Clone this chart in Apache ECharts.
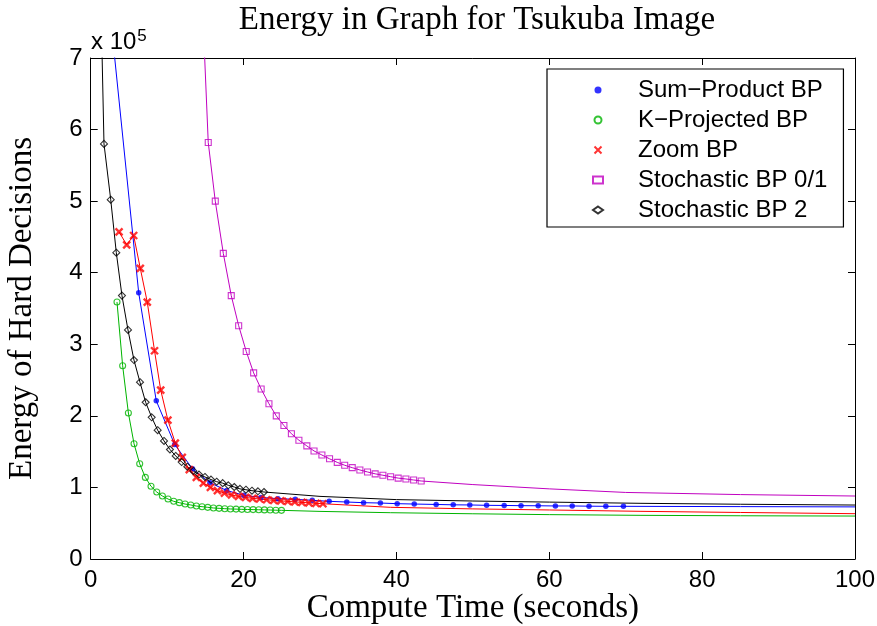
<!DOCTYPE html>
<html>
<head>
<meta charset="utf-8">
<script src="https://cdn.jsdelivr.net/npm/echarts@6/dist/echarts.min.js"></script>
<style>html,body{margin:0;padding:0;background:#fff;}#c{width:877px;height:626px;}</style>
</head>
<body>
<div id="c"></div>
<script>
// values in units of 10^5
// Sum-Product BP (marked points)
const sumProductX = [6.28, 8.58, 10.99, 13.32, 15.6, 17.79, 20.05, 22.28, 24.5, 26.76, 28.99, 31.2, 33.5, 35.7, 37.9, 40.1, 42.33, 45.2, 47.43, 49.6, 51.8, 54.1, 56.3, 58.55, 60.8, 63.0, 65.2, 67.4, 69.7];
const sumProductY = [3.72, 2.21, 1.60, 1.26, 1.066, 0.957, 0.89, 0.86, 0.843, 0.834, 0.82, 0.806, 0.796, 0.787, 0.782, 0.773, 0.768, 0.762, 0.757, 0.755, 0.75, 0.748, 0.745, 0.744, 0.741, 0.741, 0.738, 0.736, 0.736];
const sumProductLineX = [2.5, 85, 100];
const sumProductLineY = [7.67, 0.732, 0.728];

// K-Projected BP
const kProjX = [3.44, 4.18, 4.93, 5.67, 6.41, 7.15, 7.89, 8.64, 9.38, 10.12, 10.86, 11.6, 12.35, 13.09, 13.83, 14.57, 15.31, 16.06, 16.8, 17.54, 18.28, 19.02, 19.77, 20.51, 21.25, 21.99, 22.73, 23.48, 24.22, 24.96];
const kProjY = [3.59, 2.70, 2.04, 1.61, 1.33, 1.14, 1.016, 0.936, 0.88, 0.838, 0.806, 0.787, 0.768, 0.755, 0.74, 0.731, 0.722, 0.713, 0.708, 0.703, 0.699, 0.697, 0.694, 0.692, 0.69, 0.688, 0.686, 0.684, 0.682, 0.68];
const kProjLineX = [30, 39.2, 50, 60, 72, 85, 100];
const kProjLineY = [0.665, 0.647, 0.632, 0.62, 0.61, 0.604, 0.60];

// Zoom BP
const zoomX = [3.71, 4.71, 5.62, 6.49, 7.4, 8.35, 9.16, 10.1, 11.07, 11.98, 12.9, 13.82, 14.74, 15.66, 16.58, 17.5, 18.42, 19.34, 20.26, 21.18, 22.1, 23.02, 23.94, 24.86, 25.78, 26.7, 27.62, 28.54, 29.46, 30.38];
const zoomY = [4.57, 4.39, 4.52, 4.06, 3.59, 2.91, 2.36, 1.94, 1.62, 1.42, 1.25, 1.14, 1.06, 1.0, 0.955, 0.92, 0.895, 0.875, 0.86, 0.848, 0.838, 0.828, 0.82, 0.812, 0.805, 0.798, 0.791, 0.785, 0.778, 0.772];
const zoomLineX = [39.2, 50, 60, 72, 85, 100];
const zoomLineY = [0.722, 0.70, 0.685, 0.666, 0.65, 0.633];

// Stochastic BP 0/1
const stoch01X = [15.38, 16.3, 17.35, 18.39, 19.36, 20.35, 21.32, 22.3, 23.32, 24.28, 25.28, 26.26, 27.24, 28.28, 29.22, 30.25, 31.25, 32.26, 33.23, 34.22, 35.22, 36.22, 37.22, 38.23, 39.24, 40.23, 41.24, 42.25, 43.24];
const stoch01Y = [5.82, 5.00, 4.27, 3.68, 3.26, 2.90, 2.60, 2.375, 2.17, 2.00, 1.865, 1.75, 1.66, 1.58, 1.51, 1.453, 1.40, 1.35, 1.31, 1.276, 1.244, 1.216, 1.19, 1.17, 1.15, 1.13, 1.118, 1.104, 1.09];
const stoch01LineX = [14.4, 50, 60, 70, 85, 100];
const stoch01LineY = [8.3, 1.04, 0.98, 0.93, 0.90, 0.88];

// Stochastic BP 2
const stoch2X = [1.74, 2.62, 3.35, 4.09, 4.88, 5.66, 6.45, 7.19, 7.98, 8.76, 9.59, 10.37, 11.12, 11.9, 12.64, 13.42, 14.17, 14.95, 15.74, 16.48, 17.27, 18.0, 18.78, 19.53, 20.31, 21.1, 21.88, 22.67];
const stoch2Y = [5.80, 5.02, 4.28, 3.68, 3.20, 2.78, 2.47, 2.19, 1.98, 1.80, 1.65, 1.53, 1.44, 1.355, 1.29, 1.23, 1.18, 1.146, 1.11, 1.08, 1.06, 1.03, 1.006, 0.98, 0.968, 0.954, 0.946, 0.936];
const stoch2LineX = [0.97, 30, 40, 50, 60, 72, 85, 100];
const stoch2LineY = [9.6, 0.875, 0.83, 0.81, 0.795, 0.778, 0.765, 0.754];

const seriesNames = ['Sum\u2212Product BP', 'K\u2212Projected BP', 'Zoom BP', 'Stochastic BP 0/1', 'Stochastic BP 2'];
const xTicks = [0, 20, 40, 60, 80, 100];
const yTicks = [0, 1, 2, 3, 4, 5, 6, 7];

function pts(xs, ys) { return xs.map((x, i) => [x, ys[i]]); }
function linePts(xs, ys, lx, ly) {
  return pts(xs, ys).concat(pts(lx, ly)).sort((a, b) => a[0] - b[0]);
}

const defs = [
  { name: seriesNames[0], xs: sumProductX, ys: sumProductY, lx: sumProductLineX, ly: sumProductLineY, color: '#0000ff',
    symbol: 'circle', size: 5.5, item: { color: '#0000ff' } },
  { name: seriesNames[1], xs: kProjX, ys: kProjY, lx: kProjLineX, ly: kProjLineY, color: '#00b400',
    symbol: 'circle', size: 6, item: { color: 'rgba(0,0,0,0)', borderColor: '#00b400', borderWidth: 1.1 } },
  { name: seriesNames[2], xs: zoomX, ys: zoomY, lx: zoomLineX, ly: zoomLineY, color: '#ff0000',
    symbol: 'path://M0,0L10,10M10,0L0,10', size: 7, item: { color: 'rgba(0,0,0,0)', borderColor: '#ff0000', borderWidth: 2.4 } },
  { name: seriesNames[3], xs: stoch01X, ys: stoch01Y, lx: stoch01LineX, ly: stoch01LineY, color: '#c000c0',
    symbol: 'rect', size: 6, item: { color: 'rgba(0,0,0,0)', borderColor: '#c000c0', borderWidth: 1.1 } },
  { name: seriesNames[4], xs: stoch2X, ys: stoch2Y, lx: stoch2LineX, ly: stoch2LineY, color: '#000000',
    symbol: 'diamond', size: 7, item: { color: 'rgba(0,0,0,0)', borderColor: '#000000', borderWidth: 1.1 } }
];

const series = [];
defs.forEach((d, k) => {
  series.push({
    name: '_line' + k, type: 'line', data: linePts(d.xs, d.ys, d.lx, d.ly),
    showSymbol: false, symbol: 'none', smooth: false, clip: true,
    lineStyle: { color: d.color, width: 1 }, itemStyle: { color: d.color }, z: 2, silent: true
  });
});
defs.forEach((d) => {
  series.push({
    name: d.name, type: 'scatter', data: pts(d.xs, d.ys), symbol: d.symbol, symbolSize: d.size,
    itemStyle: d.item, z: 3, clip: true
  });
});

const chart = echarts.init(document.getElementById('c'), null, { renderer: 'canvas' });
const sans = 'Liberation Sans';
const serif = 'Liberation Serif';
const axisCommon = {
  type: 'value', splitLine: { show: false },
  axisLine: { show: true, onZero: false, lineStyle: { color: '#000', width: 1 } },
  axisTick: { show: true, inside: true, length: 7, lineStyle: { color: '#000', width: 1 } }
};
chart.setOption({
  animation: false,
  backgroundColor: '#fff',
  title: {
    text: 'Energy in Graph for Tsukuba Image', left: 472, textAlign: 'center', top: -1,
    textStyle: { fontFamily: serif, fontWeight: 'normal', fontSize: 33, color: '#000' }
  },
  grid: { left: 90.7, right: 22, top: 58, bottom: 67, containLabel: false, outerBoundsMode: 'none' },
  legend: {
    data: seriesNames, orient: 'vertical', left: 547, top: 69,
    itemWidth: 10, itemHeight: 7, itemGap: 6, padding: [9, 16, 5, 45],
    backgroundColor: '#fff', borderColor: '#000', borderWidth: 1.2,
    textStyle: { fontFamily: sans, fontSize: 24, color: '#000', padding: [0, 0, 0, 30] }
  },
  xAxis: [
    Object.assign({}, axisCommon, {
      min: 0, max: 100, interval: 20, position: 'bottom',
      name: 'Compute Time (seconds)', nameLocation: 'middle', nameGap: 33, nameMoveOverlap: false,
      nameTextStyle: { fontFamily: serif, fontSize: 33, color: '#000' },
      axisLabel: { show: true, margin: 9, fontFamily: sans, fontSize: 24, color: '#000',
        formatter: v => xTicks.includes(v) ? String(v) : '' }
    }),
    Object.assign({}, axisCommon, {
      min: 0, max: 100, interval: 20, position: 'top', axisLabel: { show: false }
    })
  ],
  yAxis: [
    Object.assign({}, axisCommon, {
      min: 0, max: 7, interval: 1, position: 'left',
      name: 'Energy of Hard Decisions', nameLocation: 'middle', nameGap: 52, nameRotate: 90,
      nameTextStyle: { fontFamily: serif, fontSize: 33, color: '#000' },
      axisLabel: { show: true, margin: 8, fontFamily: sans, fontSize: 24, color: '#000',
        formatter: v => yTicks.includes(v) ? String(v) : '' }
    }),
    Object.assign({}, axisCommon, {
      min: 0, max: 7, interval: 1, position: 'right', axisLabel: { show: false }
    })
  ],
  graphic: [{
    type: 'text', left: 91, top: 28,
    style: {
      text: 'x 10{sup|5}', fontFamily: sans, fontSize: 24, fill: '#000',
      rich: { sup: { fontFamily: sans, fontSize: 17, verticalAlign: 'top', padding: [0, 0, 12, 1] } }
    }
  }],
  series: series
});
</script>
</body>
</html>
